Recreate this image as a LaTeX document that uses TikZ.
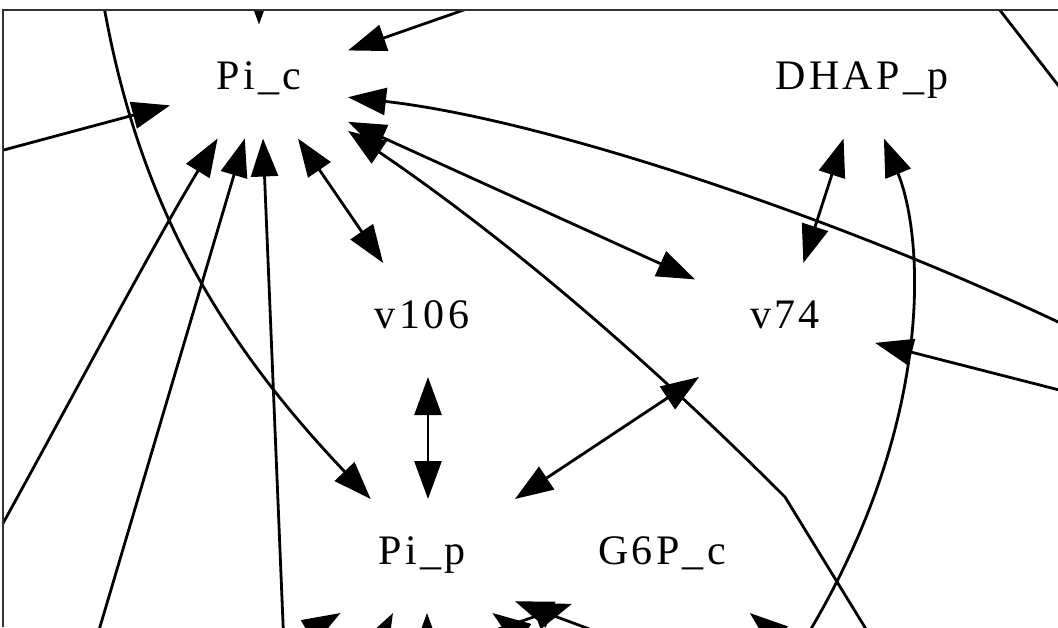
\documentclass[tikz,border=0pt]{standalone}
\usepackage{fontspec}
\usepackage{tikz}
\usetikzlibrary{arrows.meta,positioning}
\newfontfamily\gvfont[LetterSpace=8]{Liberation Serif}

\begin{document}
\begin{tikzpicture}[x=1pt,y=-1pt,
  font=\gvfont\fontsize{42}{48}\selectfont,
  box/.style={rectangle,inner sep=0pt,outer sep=0pt,minimum width=180pt,
              minimum height=114pt,text height=28pt,text depth=12pt},
  ar/.style={-{Triangle[length=38pt,width=27pt]},line width=2.8pt},
  dar/.style={{Triangle[length=38pt,width=27pt]}-{Triangle[length=38pt,width=27pt]},
              line width=2.8pt},
  frame/.style={draw=black!80,line width=2.4pt}]
\useasboundingbox (0,0) rectangle (1058,627);
\fill[white] (0,0) rectangle (1058,627);
\node[box,minimum width=178pt] (pic) at (259,81.5) {Pi\_c};
\node[box,minimum width=265pt] (dhap) at (862,81.5) {DHAP\_p};
\node[box] (v106) at (422,320) {v106};
\node[box] (v74) at (785,320) {v74};
\node[box,minimum width=186pt] (pip) at (422,556) {Pi\_p};
\node[box,right=57pt of pip] (g6p) {G6P\_c};
\coordinate (ctop) at (259,-40);
\coordinate (ctr) at (521,-10);
\coordinate (cl) at (-15,155);
\coordinate (ctl) at (102,-5);
\coordinate (cl2) at (-9,545);
\coordinate (cb1) at (94,647);
\coordinate (cb2) at (284,647);
\coordinate (cr1) at (1075,330);
\coordinate (cb3) at (877,647);
\coordinate (kink) at (785,497);
\coordinate (cb4) at (800,647);
\coordinate (cr2) at (1075,394);
\coordinate (ctra) at (992,0);
\coordinate (ctrb) at (1075,107);
\coordinate (pb1) at (289,643);
\coordinate (pb2) at (370,657);
\coordinate (pb3) at (427,660);
\coordinate (pb4) at (541,648);
\coordinate (pb5) at (600,633);
\coordinate (pb6) at (487,633);
\coordinate (pb7) at (796,651);
\begin{scope}
\clip (3,10) rectangle (1058,627);
\draw[ar] (ctop) -- (pic);
\draw[ar] (ctr) -- (pic);
\draw[ar] (cl) -- (pic);
\draw[ar] (cl2) .. controls (55,430) and (150,250) .. (pic.-126);
\draw[ar] (cb1) -- (pic.-104);
\draw[ar] (cb2) -- (pic.-86);
\draw[ar] (ctl) .. controls (135,190) and (210,330) .. (pip.132);
\draw[ar] (cr1) .. controls (850,222) and (550,120) .. (pic.-10);
\draw[ar] (cb3) -- (kink) .. controls (635,347) and (498,233) .. (pic.-29.6);
\draw[ar] (cb4) .. controls (935,430) and (925,240) .. (dhap.-69.6);
\draw[ar] (cr2) -- (v74);
\draw[line width=2.8pt] (ctra) -- (ctrb);
\draw[dar] (pic) -- (v106);
\draw[dar] (pic) -- (v74);
\draw[dar] (dhap) -- (v74);
\draw[dar] (pip.north east) -- (v74);
\draw[dar] ([xshift=6pt]v106.south) -- ([xshift=6pt]pip.north);
\draw[ar] (pb1) -- (pip.-145.7);
\draw[ar] (pb2) -- (pip.-117);
\draw[ar] (pb3) -- (pip.-85);
\draw[ar] (pb4) -- (pip.-39.2);
\draw[ar] (pb5) -- (pip.-26.3);
\draw[ar] (pb6) -- (g6p.-152.9);
\draw[ar] (pb7) -- (g6p.-33.5);
\end{scope}
\draw[frame] (3,627) -- (3,10) -- (1058,10);
\end{tikzpicture}
\end{document}
